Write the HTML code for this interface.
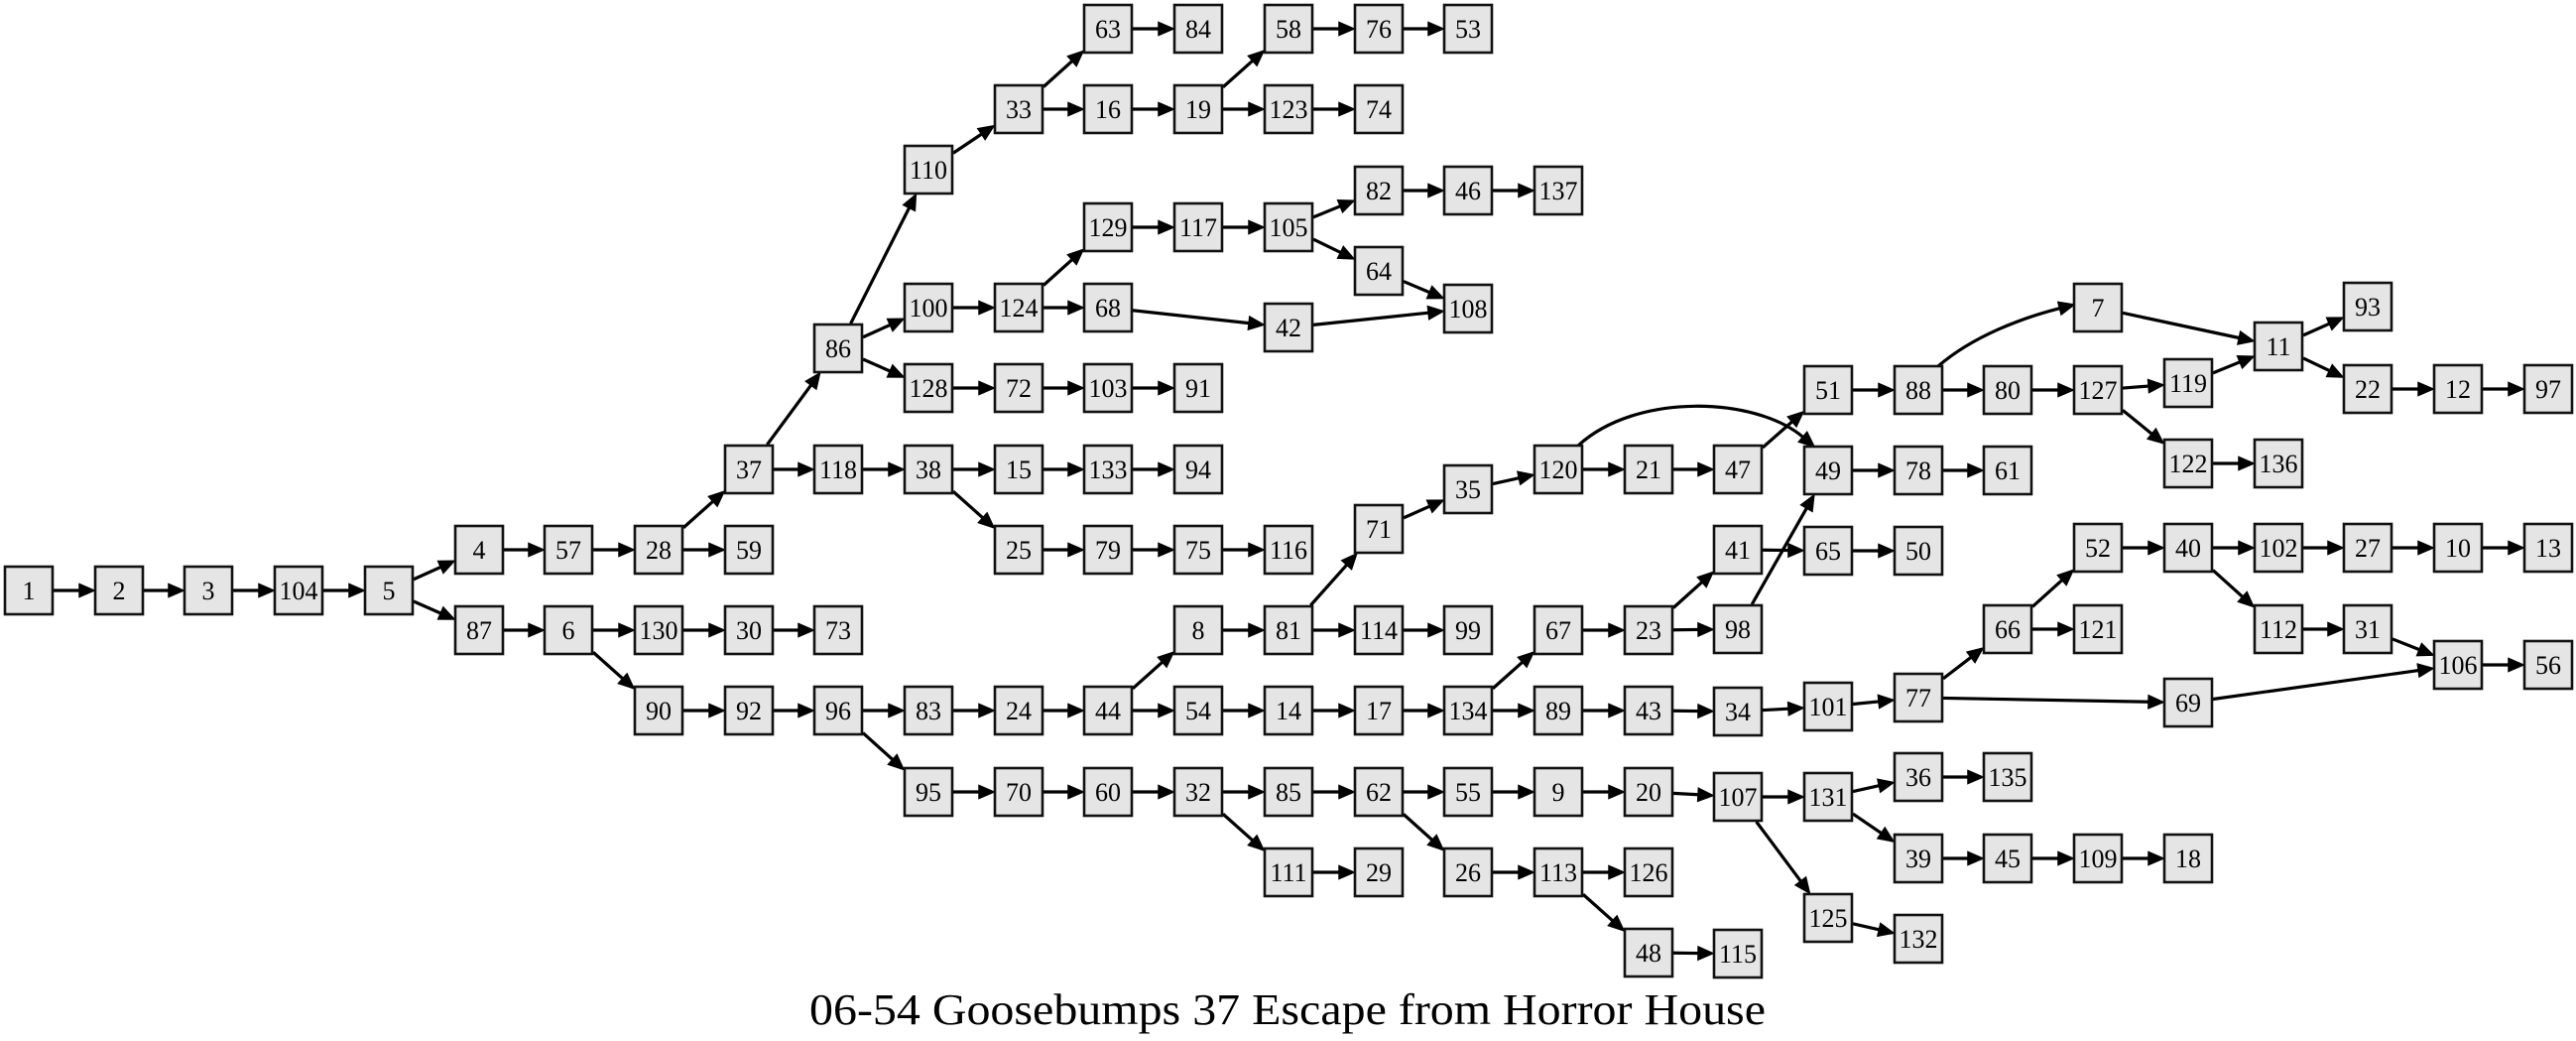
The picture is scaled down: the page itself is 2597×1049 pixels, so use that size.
<!DOCTYPE html>
<html><head><meta charset="utf-8"><style>
html,body{margin:0;padding:0;background:#fff;}
svg{display:block;font-family:"Liberation Serif",serif;}
text{font-family:"Liberation Serif",serif;}
</style></head><body>
<svg id="s" width="2597" height="1049" viewBox="0 0 2597 1049" xmlns="http://www.w3.org/2000/svg" font-family="Liberation Serif, serif">
<g id="edges"></g>
<g id="boxes"></g>
<g id="labels" font-size="26" text-anchor="middle" fill="#000" font-family="Liberation Serif, serif" style="font-family:'Liberation Serif',serif">
<text x="29" y="595">1</text><text x="120" y="595">2</text><text x="210" y="595">3</text><text x="301" y="595">104</text><text x="392" y="595">5</text>
<text x="483" y="554">4</text><text x="483" y="635">87</text><text x="573" y="554">57</text><text x="664" y="554">28</text><text x="755" y="554">59</text>
<text x="755" y="473">37</text><text x="845" y="351">86</text><text x="845" y="473">118</text>
<text x="936" y="171">110</text><text x="936" y="310">100</text><text x="936" y="391">128</text><text x="936" y="473">38</text>
<text x="1027" y="110">33</text><text x="1117" y="29">63</text><text x="1208" y="29">84</text><text x="1117" y="110">16</text><text x="1208" y="110">19</text>
<text x="1299" y="29">58</text><text x="1390" y="29">76</text><text x="1480" y="29">53</text><text x="1299" y="110">123</text><text x="1390" y="110">74</text>
<text x="1027" y="310">124</text><text x="1117" y="229">129</text><text x="1208" y="229">117</text><text x="1299" y="229">105</text>
<text x="1390" y="192">82</text><text x="1480" y="192">46</text><text x="1571" y="192">137</text><text x="1390" y="273">64</text><text x="1480" y="311">108</text>
<text x="1117" y="310">68</text><text x="1299" y="330">42</text>
<text x="1027" y="391">72</text><text x="1117" y="391">103</text><text x="1208" y="391">91</text>
<text x="1027" y="473">15</text><text x="1117" y="473">133</text><text x="1208" y="473">94</text>
<text x="1027" y="554">25</text><text x="1117" y="554">79</text><text x="1208" y="554">75</text><text x="1299" y="554">116</text>
<text x="573" y="635">6</text><text x="664" y="635">130</text><text x="755" y="635">30</text><text x="845" y="635">73</text>
<text x="664" y="716">90</text><text x="755" y="716">92</text><text x="845" y="716">96</text><text x="936" y="716">83</text><text x="1027" y="716">24</text><text x="1117" y="716">44</text>
<text x="1208" y="635">8</text><text x="1299" y="635">81</text><text x="1390" y="635">114</text><text x="1480" y="635">99</text>
<text x="1390" y="533">71</text><text x="1480" y="493">35</text><text x="1571" y="473">120</text><text x="1662" y="473">21</text><text x="1752" y="473">47</text>
<text x="1843" y="393">51</text><text x="1934" y="393">88</text><text x="2024" y="393">80</text><text x="2115" y="393">127</text><text x="2115" y="310">7</text>
<text x="2206" y="386">119</text><text x="2206" y="467">122</text><text x="2297" y="467">136</text><text x="2297" y="349">11</text>
<text x="2387" y="309">93</text><text x="2387" y="392">22</text><text x="2478" y="392">12</text><text x="2569" y="392">97</text>
<text x="1843" y="474">49</text><text x="1934" y="474">78</text><text x="2024" y="474">61</text>
<text x="1208" y="716">54</text><text x="1299" y="716">14</text><text x="1390" y="716">17</text><text x="1480" y="716">134</text>
<text x="1571" y="635">67</text><text x="1662" y="635">23</text><text x="1752" y="554">41</text><text x="1843" y="555">65</text><text x="1934" y="555">50</text><text x="1752" y="634">98</text>
<text x="1571" y="716">89</text><text x="1662" y="716">43</text><text x="1752" y="717">34</text><text x="1843" y="712">101</text><text x="1934" y="703">77</text>
<text x="2024" y="634">66</text><text x="2115" y="634">121</text><text x="2115" y="552">52</text><text x="2206" y="552">40</text><text x="2297" y="552">102</text><text x="2387" y="552">27</text><text x="2478" y="552">10</text><text x="2569" y="552">13</text>
<text x="2297" y="634">112</text><text x="2387" y="634">31</text><text x="2478" y="670">106</text><text x="2569" y="670">56</text><text x="2206" y="708">69</text>
<text x="936" y="798">95</text><text x="1027" y="798">70</text><text x="1117" y="798">60</text><text x="1208" y="798">32</text><text x="1299" y="798">85</text><text x="1390" y="798">62</text>
<text x="1480" y="798">55</text><text x="1571" y="798">9</text><text x="1662" y="798">20</text><text x="1752" y="803">107</text><text x="1843" y="803">131</text>
<text x="1934" y="783">36</text><text x="2024" y="783">135</text><text x="1934" y="865">39</text><text x="2024" y="865">45</text><text x="2115" y="865">109</text><text x="2206" y="865">18</text>
<text x="1843" y="925">125</text><text x="1934" y="946">132</text>
<text x="1299" y="879">111</text><text x="1390" y="879">29</text><text x="1480" y="879">26</text><text x="1571" y="879">113</text><text x="1662" y="879">126</text>
<text x="1662" y="960">48</text><text x="1752" y="961">115</text>
</g>
<text x="1298" y="1032" font-size="44" text-anchor="middle" textLength="964" lengthAdjust="spacingAndGlyphs" font-family="Liberation Serif, serif">06-54 Goosebumps 37 Escape from Horror House</text>
</svg>
<script>
(function(){
var NS="http://www.w3.org/2000/svg";
var pos={};
var labels=document.querySelectorAll('#labels text');
var boxes=document.getElementById('boxes');
var edgesG=document.getElementById('edges');
labels.forEach(function(t){
  var x=+t.getAttribute('x'),y=+t.getAttribute('y');
  pos[t.textContent]=[x,y];
  t.setAttribute('y',y+9);
  var r=document.createElementNS(NS,'rect');
  r.setAttribute('x',x-24);r.setAttribute('y',y-24);r.setAttribute('width',48);r.setAttribute('height',48);
  r.setAttribute('fill','#e5e5e5');r.setAttribute('stroke','#111');r.setAttribute('stroke-width','2.6');
  boxes.appendChild(r);
});
var E="1-2,2-3,3-104,104-5,5-4,5-87,4-57,57-28,28-37,28-59,37-86,37-118,86-110,86-100,86-128,110-33,33-63,33-16,63-84,16-19,19-58,19-123,58-76,76-53,123-74,100-124,124-129,124-68,129-117,117-105,105-82,105-64,82-46,46-137,64-108,68-42,42-108,128-72,72-103,103-91,118-38,38-15,38-25,15-133,133-94,25-79,79-75,75-116,87-6,6-130,6-90,130-30,30-73,90-92,92-96,96-83,96-95,83-24,24-44,44-8,44-54,8-81,81-71,81-114,114-99,71-35,35-120,120-21,21-47,47-51,51-88,88-80,80-127,127-119,127-122,122-136,119-11,7-11,11-93,11-22,22-12,12-97,49-78,78-61,54-14,14-17,17-134,134-67,134-89,67-23,23-41,23-98,41-65,65-50,98-49,89-43,43-34,34-101,101-77,77-66,77-69,66-52,66-121,52-40,40-102,40-112,102-27,27-10,10-13,112-31,31-106,69-106,106-56,95-70,70-60,60-32,32-85,32-111,111-29,85-62,62-55,62-26,55-9,9-20,20-107,107-131,107-125,131-36,131-39,36-135,39-45,45-109,109-18,125-132,26-113,113-126,113-48,48-115".split(',');
function clip(c,dx,dy){var h=25;var t=Math.min(dx?h/Math.abs(dx):1e9,dy?h/Math.abs(dy):1e9);return [c[0]+dx*t,c[1]+dy*t];}
function arrow(tip,ux,uy){
  var L=15,W=6.5;var bx=tip[0]-ux*L,by=tip[1]-uy*L;
  var p=document.createElementNS(NS,'polygon');
  p.setAttribute('points',tip[0]+','+tip[1]+' '+(bx-uy*W)+','+(by+ux*W)+' '+(bx+uy*W)+','+(by-ux*W));
  p.setAttribute('fill','#000');p.setAttribute('stroke','#000');p.setAttribute('stroke-width','1.5');
  edgesG.appendChild(p);return [bx,by];
}
E.forEach(function(e){
  var a=e.split('-'),A=pos[a[0]],B=pos[a[1]];
  var dx=B[0]-A[0],dy=B[1]-A[1];var len=Math.hypot(dx,dy);var ux=dx/len,uy=dy/len;
  var s=clip(A,dx,dy),t=clip(B,-dx,-dy);
  var b=arrow(t,ux,uy);
  var l=document.createElementNS(NS,'line');
  l.setAttribute('x1',s[0]);l.setAttribute('y1',s[1]);l.setAttribute('x2',b[0]);l.setAttribute('y2',b[1]);
  l.setAttribute('stroke','#000');l.setAttribute('stroke-width','3.2');
  edgesG.appendChild(l);
});
function curve(d,c2,tip){
  var dx=tip[0]-c2[0],dy=tip[1]-c2[1];var len=Math.hypot(dx,dy);var ux=dx/len,uy=dy/len;
  var b=arrow(tip,ux,uy);
  var p=document.createElementNS(NS,'path');
  p.setAttribute('d',d+' '+b[0]+','+b[1]);p.setAttribute('fill','none');p.setAttribute('stroke','#000');p.setAttribute('stroke-width','3.2');
  edgesG.appendChild(p);
}
curve('M1591,449 C1650,395 1770,400',[1770,400],[1829,450]);
curve('M1954,369 C1990,338 2040,320',[2040,320],[2091,307]);
})();
</script>
</body></html>
